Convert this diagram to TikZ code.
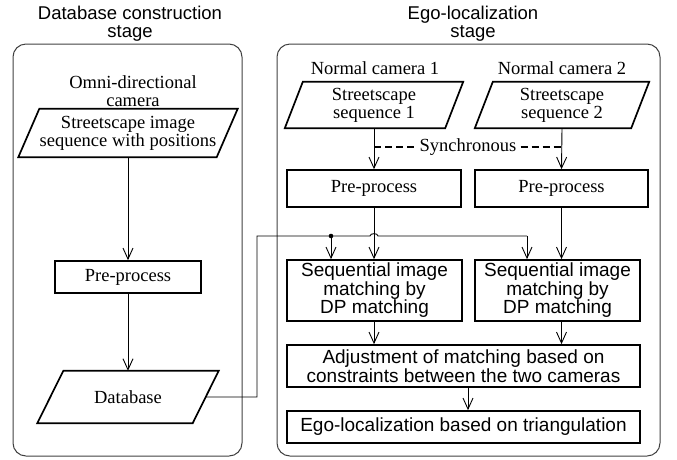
\documentclass[tikz,border=0pt]{standalone}
\usepackage{fontspec}
\setmainfont{Liberation Serif}
\setsansfont{Liberation Sans}
\usetikzlibrary{arrows.meta}
\begin{document}
\begin{tikzpicture}[x=1pt,y=-1pt,
  panel/.style={draw=black!75, line width=1pt, rounded corners=13pt, inner sep=0pt},
  sbox/.style={draw, line width=1.7pt, inner sep=0pt, align=center, font=\fontsize{18.5}{17.5}\selectfont},
  fbox/.style={draw, line width=1.7pt, inner sep=0pt, align=center, font=\sffamily\fontsize{19}{18.5}\selectfont},
  ptext/.style={inner sep=0pt, align=center, font=\fontsize{18.5}{18}\selectfont},
  pshape/.style={line width=1.7pt, line join=miter},
  lbl/.style={inner sep=0pt, align=center, font=\fontsize{18.5}{18}\selectfont},
  title/.style={inner sep=0pt, align=center, font=\sffamily\fontsize{18.5}{18}\selectfont},
  conn/.style={line width=0.9pt},
  arr/.style={line width=0.9pt, -{Straight Barb[length=11pt,width=10pt]}}
]
\useasboundingbox (0,0) rectangle (677,459);

% panels
\node[panel, minimum width=229pt, minimum height=412pt] (lp) at (127.5,250) {};
\node[panel, minimum width=383pt, minimum height=412pt] (rp) at (468.5,250) {};

% titles
\node[title] (t1) at (130,24) {Database construction\\stage};
\node[title] (t2) at (473,24) {Ego-localization\\stage};

% left column
\node[lbl] (omni) at (133,91) {Omni-directional\\camera};
\node[ptext, minimum width=219pt, minimum height=48pt] (s0) at (128,133) {Streetscape image\\sequence with positions};
\draw[pshape] ([xshift=21pt]s0.north west) -- (s0.north east) -- ([xshift=-21pt]s0.south east) -- (s0.south west) -- cycle;
\node[sbox, minimum width=146pt, minimum height=32pt] (pp0) at (128,277) {Pre-process};
\node[ptext, minimum width=181pt, minimum height=52pt] (db) at (128,397) {Database};
\draw[pshape] ([xshift=26pt]db.north west) -- (db.north east) -- ([xshift=-26pt]db.south east) -- (db.south west) -- cycle;

\draw[arr] (s0.south) -- (pp0.north);
\draw[arr] (pp0.south) -- (db.north);

% right column
\node[lbl] (nc1) at (375,68) {Normal camera 1};
\node[lbl] (nc2) at (562,68) {Normal camera 2};
\node[ptext, minimum width=178pt, minimum height=46pt] (s1) at (374,105) {Streetscape\\sequence 1};
\draw[pshape] ([xshift=18pt]s1.north west) -- (s1.north east) -- ([xshift=-18pt]s1.south east) -- (s1.south west) -- cycle;
\node[ptext, minimum width=174pt, minimum height=46pt] (s2) at (562,105) {Streetscape\\sequence 2};
\draw[pshape] ([xshift=18pt]s2.north west) -- (s2.north east) -- ([xshift=-18pt]s2.south east) -- (s2.south west) -- cycle;

\node[sbox, minimum width=174pt, minimum height=37pt] (pp1) at (374,188.5) {Pre-process};
\node[sbox, minimum width=173pt, minimum height=37pt] (pp2) at (561.5,188.5) {Pre-process};

\node[fbox, minimum width=175pt, minimum height=61pt] (sm1) at (374.5,290.5) {Sequential image\\matching by\\DP matching};
\node[fbox, minimum width=165pt, minimum height=61pt] (sm2) at (557.5,290.5) {Sequential image\\matching by\\DP matching};
\node[fbox, minimum width=353pt, minimum height=42pt] (adj) at (463.5,366) {Adjustment of matching based on\\constraints between the two cameras};
\node[fbox, minimum width=353pt, minimum height=32pt] (ego) at (463.5,427) {Ego-localization based on triangulation};

% synchronous
\node[lbl, fill=white, inner xsep=4pt] (sync) at (468,147) {Synchronous};
\coordinate (sl) at (374,147);
\coordinate (sr) at (562,147);
\draw[line width=1.8pt, dash pattern=on 7pt off 4pt] (sl) -- (sync.west);
\draw[line width=1.8pt, dash pattern=on 7pt off 4pt] (sync.east) -- (sr);

\draw[arr] (s1.south) -- (pp1.north);
\draw[arr] (s2.south) -- (pp2.north);
\draw[arr] (pp1.south) -- (pp1.south |- sm1.north);
\draw[arr] (pp2.south) -- (pp2.south |- sm2.north);
\draw[arr] (pp1.south |- sm1.south) -- (pp1.south |- adj.north);
\draw[arr] (pp2.south |- sm2.south) -- (pp2.south |- adj.north);
\coordinate (ae) at (468,400);
\draw[arr] (ae |- adj.south) -- (ae |- ego.north);

% database link
\coordinate (dbr) at (205,397);
\coordinate (k1) at (257,397);
\coordinate (k2) at (257,236);
\coordinate (dot) at (331,236);
\coordinate (jl) at (370,236);
\coordinate (jr) at (378,236);
\coordinate (k3) at (527,236);
\draw[conn] (dbr) -- (k1) -- (k2) -- (dot) -- (jl) to[out=90,in=90] (jr) -- (k3);
\fill (dot) circle (2.3pt);
\draw[arr] (dot) -- (dot |- sm1.north);
\draw[arr] (k3) -- (k3 |- sm2.north);
\end{tikzpicture}
\end{document}
